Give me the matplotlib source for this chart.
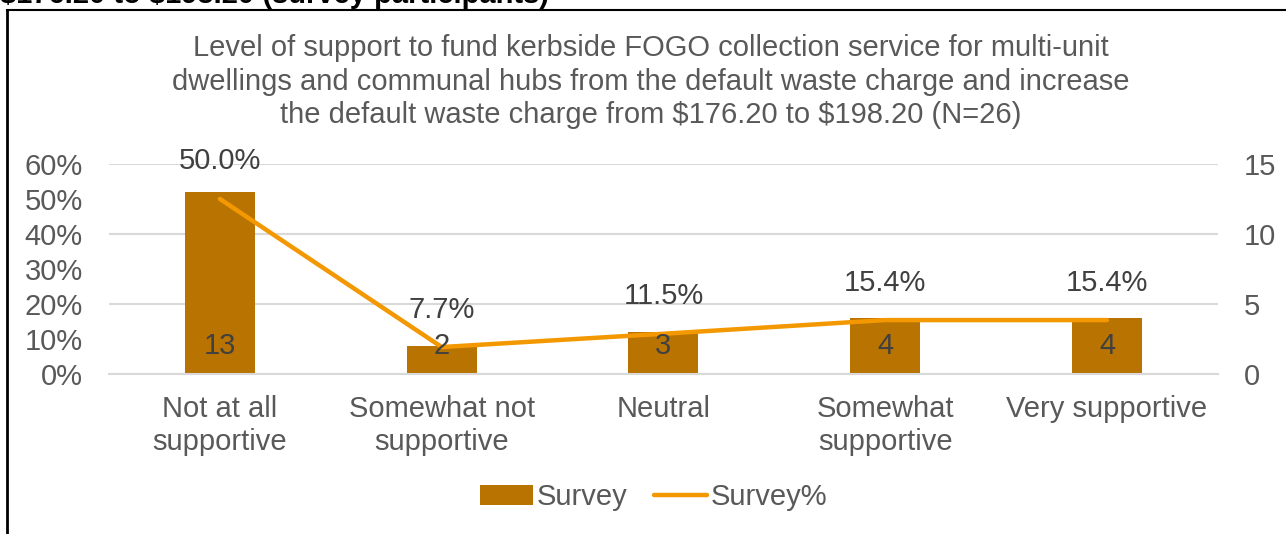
import matplotlib.pyplot as plt
from matplotlib.ticker import PercentFormatter

plt.rcParams['font.family'] = ['Liberation Sans', 'DejaVu Sans']
plt.rcParams['text.parse_math'] = False

# Data
categories = ["Not at all\nsupportive", "Somewhat not\nsupportive", "Neutral",
              "Somewhat\nsupportive", "Very supportive"]
counts = [13, 2, 3, 4, 4]
percents = [50.0, 7.7, 11.5, 15.4, 15.4]

title = ("Level of support to fund kerbside FOGO collection service for multi-unit\n"
         "dwellings and communal hubs from the default waste charge and increase\n"
         "the default waste charge from $176.20 to $198.20 (N=26)")

bar_color = "#B87300"
line_color = "#F39800"
text_grey = "#595959"
label_grey = "#404040"
fs = 21

fig = plt.figure(figsize=(12.86, 5.34), dpi=100)
ax = fig.add_axes([0.0848, 0.2996, 0.947 - 0.0848, 0.3934])
ax2 = ax.twinx()

x = list(range(len(categories)))

# bars (counts) on the right axis, line (percent) on the left axis
bars = ax2.bar(x, counts, width=0.316, color=bar_color, zorder=2, label="Survey")
ax2.set_ylim(0, 15)
ax2.set_yticks([0, 5, 10, 15])

line, = ax.plot(x, percents, color=line_color, lw=3.2, solid_capstyle="round",
                zorder=5, label="Survey%")
ax.set_ylim(0, 60)
ax.set_yticks(range(0, 61, 10))
ax.yaxis.set_major_formatter(PercentFormatter(decimals=0))
ax.set_xlim(-0.5, len(categories) - 0.5)
ax.set_xticks(x)
ax.set_xticklabels(categories, fontsize=fs, color=text_grey, linespacing=1.25)

# line above bars
ax.set_zorder(ax2.get_zorder() + 1)
ax.patch.set_visible(False)

ax2.set_axisbelow(True)
ax2.yaxis.grid(True, color="#D9D9D9", lw=1.5, zorder=0)
ax.tick_params(axis="y", labelsize=fs, labelcolor=text_grey, length=0, pad=19)
ax2.tick_params(axis="y", labelsize=fs, labelcolor=text_grey, length=0, pad=19)
ax.tick_params(axis="x", length=0, pad=15)
for a in (ax, ax2):
    for s in a.spines.values():
        s.set_visible(False)
ax2.spines["bottom"].set_visible(True)
ax2.spines["bottom"].set_color("#D9D9D9")
ax2.spines["bottom"].set_linewidth(1.5)

# data labels
for xi, p in zip(x, percents):
    ax.annotate(f"{p:.1f}%", (xi, p), xytext=(0, 27), textcoords="offset points",
                ha="center", va="center", fontsize=fs, color=label_grey, zorder=6)
for xi, c in zip(x, counts):
    ax.annotate(str(c), (xi, 0), xytext=(0, 20), textcoords="offset points",
                ha="center", va="center", fontsize=fs, color=label_grey, zorder=6)

fig.text(0.506, 1 - 82 / 534, title, ha="center", va="center", fontsize=fs,
         color=text_grey, linespacing=1.25)

fig.legend([bars, line], ["Survey", "Survey%"], loc="center",
           bbox_to_anchor=(654 / 1286, 1 - 497 / 534), ncol=2, frameon=False,
           fontsize=fs, labelcolor=text_grey, handlelength=1.8,
           handletextpad=0.15, columnspacing=0.9)

# cut off heading above the chart and the chart frame
fig.text(0.0, 1 + 5 / 534, "$176.20 to $198.20 (survey participants)",
         ha="left", va="center", fontsize=21, fontweight="bold", color="black")
fig.add_artist(plt.Line2D([7 / 1286, 7 / 1286], [0, 1 - 10 / 534], color="black", lw=2))
fig.add_artist(plt.Line2D([7 / 1286, 1], [1 - 10 / 534, 1 - 10 / 534], color="black", lw=1.5))

fig.savefig("out.png", dpi=100)
